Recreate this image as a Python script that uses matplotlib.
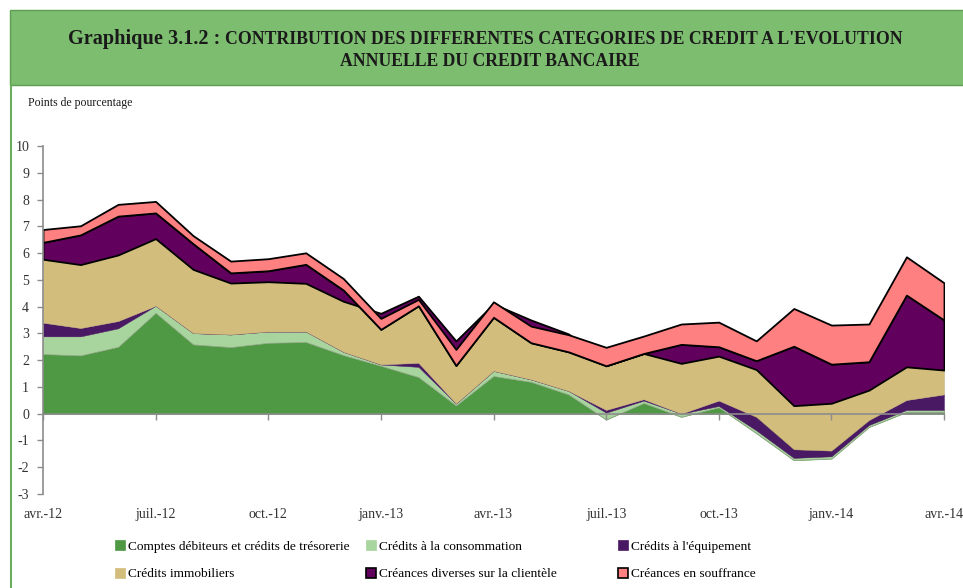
import matplotlib
matplotlib.use("Agg")  # headless
import matplotlib.pyplot as plt
import numpy as np
from matplotlib.patches import Rectangle, Patch
from matplotlib.lines import Line2D
import matplotlib.transforms as mtransforms

# mois avr.-12 .. avr.-14 (25 points mensuels)
months = list(range(25))
tick_pos = [0, 3, 6, 9, 12, 15, 18, 21, 24]
tick_labels = ["avr.-12", "juil.-12", "oct.-12", "janv.-13", "avr.-13",
               "juil.-13", "oct.-13", "janv.-14", "avr.-14"]

# contributions (points de pourcentage)
comptes = [2.23, 2.18, 2.50, 3.77, 2.59, 2.49, 2.65, 2.68, 2.19, 1.79, 1.37, 0.31, 1.41,
           1.19, 0.72, -0.21, 0.40, -0.11, 0.24, -0.72, -1.73, -1.67, -0.49, 0.07, 0.07]
conso = [0.66, 0.71, 0.69, 0.26, 0.42, 0.47, 0.42, 0.39, 0.12, 0.05, 0.38, 0.07, 0.19,
         0.09, 0.13, 0.25, 0.09, 0.11, 0.05, 0.10, 0.08, 0.08, 0.07, 0.07, 0.07]
equipement = [0.51, 0.31, 0.27, 0.00, 0.00, 0.00, 0.00, 0.00, 0.00, 0.00, 0.15, 0.00, 0.00,
              0.00, 0.00, 0.10, 0.05, 0.00, 0.20, 0.50, 0.32, 0.21, 0.18, 0.37, 0.58]
immobiliers = [2.37, 2.37, 2.47, 2.51, 2.38, 1.92, 1.86, 1.80, 1.89, 1.91, 2.49, 2.34, 2.50,
               2.22, 2.13, 1.65, 1.71, 1.88, 1.66, 1.77, 1.63, 1.77, 1.12, 1.24, 0.91]
diverses = [0.63, 1.11, 1.45, 0.96, 0.96, 0.38, 0.41, 0.71, 0.42, -0.60, -0.36, -0.92, -0.50,
            -0.85, -0.67, 0.00, 0.00, 0.71, 0.35, 0.33, 2.22, 1.46, 1.06, 2.68, 1.87]
souffrance = [0.48, 0.34, 0.44, 0.43, 0.30, 0.44, 0.45, 0.43, 0.43, 0.41, 0.24, 0.60, 0.58,
              0.62, 0.64, 0.69, 0.65, 0.76, 0.92, 0.74, 1.41, 1.46, 1.41, 1.43, 1.39]

series = [
    ("Comptes débiteurs et crédits de trésorerie", comptes, "#4f9944", "#4f9944", 0.8),
    ("Crédits à la consommation", conso, "#a8d59e", "#9aa890", 0.5),
    ("Crédits à l'équipement", equipement, "#4a1963", "#4a1963", 0.3),
    ("Crédits immobiliers", immobiliers, "#d2bd7c", "#b8a878", 0.3),
    ("Créances diverses sur la clientèle", diverses, "#62005e", "black", 1.3),
    ("Créances en souffrance", souffrance, "#ff8080", "black", 1.3),
]

SERIF = "Liberation Serif"
W, H = 963, 588

fig = plt.figure(figsize=(W / 100, H / 100), dpi=100)

# bandeau du titre
fig.patches.append(Rectangle((10 / W, 1 - 85 / H), 960 / W, 75 / H, transform=fig.transFigure,
                             facecolor="#7dbd6f", edgecolor="#5e9e50", lw=1, zorder=0))
fig.add_artist(Line2D([10.5 / W, 10.5 / W], [0, 1 - 85 / H], color="#6aad5c", lw=1.5))

ax = fig.add_axes([43 / W, 1 - 494 / H, (944 - 43) / W, (494 - 146) / H])

x = np.array(months)
base = np.zeros(len(x))
handles = []
for name, vals, col, ec, lw in series:
    top = base + np.array(vals)
    ax.fill_between(x, base, top, facecolor=col, edgecolor=ec, linewidth=lw)
    base = top
    hec = "black" if ec == "black" else col
    handles.append(Patch(facecolor=col, edgecolor=hec, linewidth=1.2 if ec == "black" else 0.5))

ax.set_xlim(0, 24)
ax.set_ylim(-3, 10)
for s in ["top", "right"]:
    ax.spines[s].set_visible(False)
ax.spines["bottom"].set_position(("data", 0))
ax.spines["bottom"].set_color("#8c8c8c")
ax.spines["left"].set_color("#8c8c8c")
ax.spines["bottom"].set_linewidth(1.2)
ax.spines["left"].set_linewidth(1.2)

ax.set_yticks(range(-3, 11))
ax.set_yticklabels([str(v) for v in range(-3, 11)], fontsize=10, family=SERIF, color="#333333")
ax.set_xticks(tick_pos)
ax.set_xticklabels([""] * len(tick_pos))
ax.tick_params(axis="both", direction="out", length=4, color="#8c8c8c", width=1)
ax.tick_params(axis="y", pad=6)

trans = mtransforms.blended_transform_factory(ax.transData, ax.transAxes)
for p, lab in zip(tick_pos, tick_labels):
    ax.text(p, -0.058, lab, transform=trans, ha="center", va="center",
            fontsize=10, family=SERIF, color="#333333")

# titre (deux tailles sur la première ligne)
t1 = fig.text(68 / W, 1 - 44 / H, "Graphique 3.1.2 :", fontsize=14.6, fontweight="bold",
              family=SERIF, va="baseline", ha="left", color="#1a1a1a")
fig.canvas.draw()
bb = t1.get_window_extent()
fig.text(bb.x1 / W + 5 / W, 1 - 44 / H,
         "CONTRIBUTION DES DIFFERENTES CATEGORIES DE CREDIT A L'EVOLUTION",
         fontsize=12.8, fontweight="bold", family=SERIF, va="baseline", ha="left",
         color="#1a1a1a")
fig.text(490 / W, 1 - 61 / H, "ANNUELLE DU CREDIT BANCAIRE", fontsize=12.7, fontweight="bold",
         family=SERIF, ha="center", va="center", color="#1a1a1a")

fig.text(28 / W, 1 - 103 / H, "Points de pourcentage", fontsize=8.5, family=SERIF,
         va="center", ha="left", color="#1a1a1a")

# légende : 3 colonnes de 2 lignes
labels = [s[0] for s in series]
col_x = [115, 366, 618]
for i, cx in enumerate(col_x):
    idx = [i, i + 3]
    fig.legend([handles[j] for j in idx], [labels[j] for j in idx],
               loc="upper left", bbox_to_anchor=(cx / W, 1 - 540 / H), frameon=False,
               prop={"family": SERIF, "size": 9.6}, handlelength=0.75, handleheight=0.75,
               handletextpad=0.25, labelspacing=1.15, borderpad=0, borderaxespad=0)

fig.savefig("out.png", dpi=100)
plt.close(fig)
